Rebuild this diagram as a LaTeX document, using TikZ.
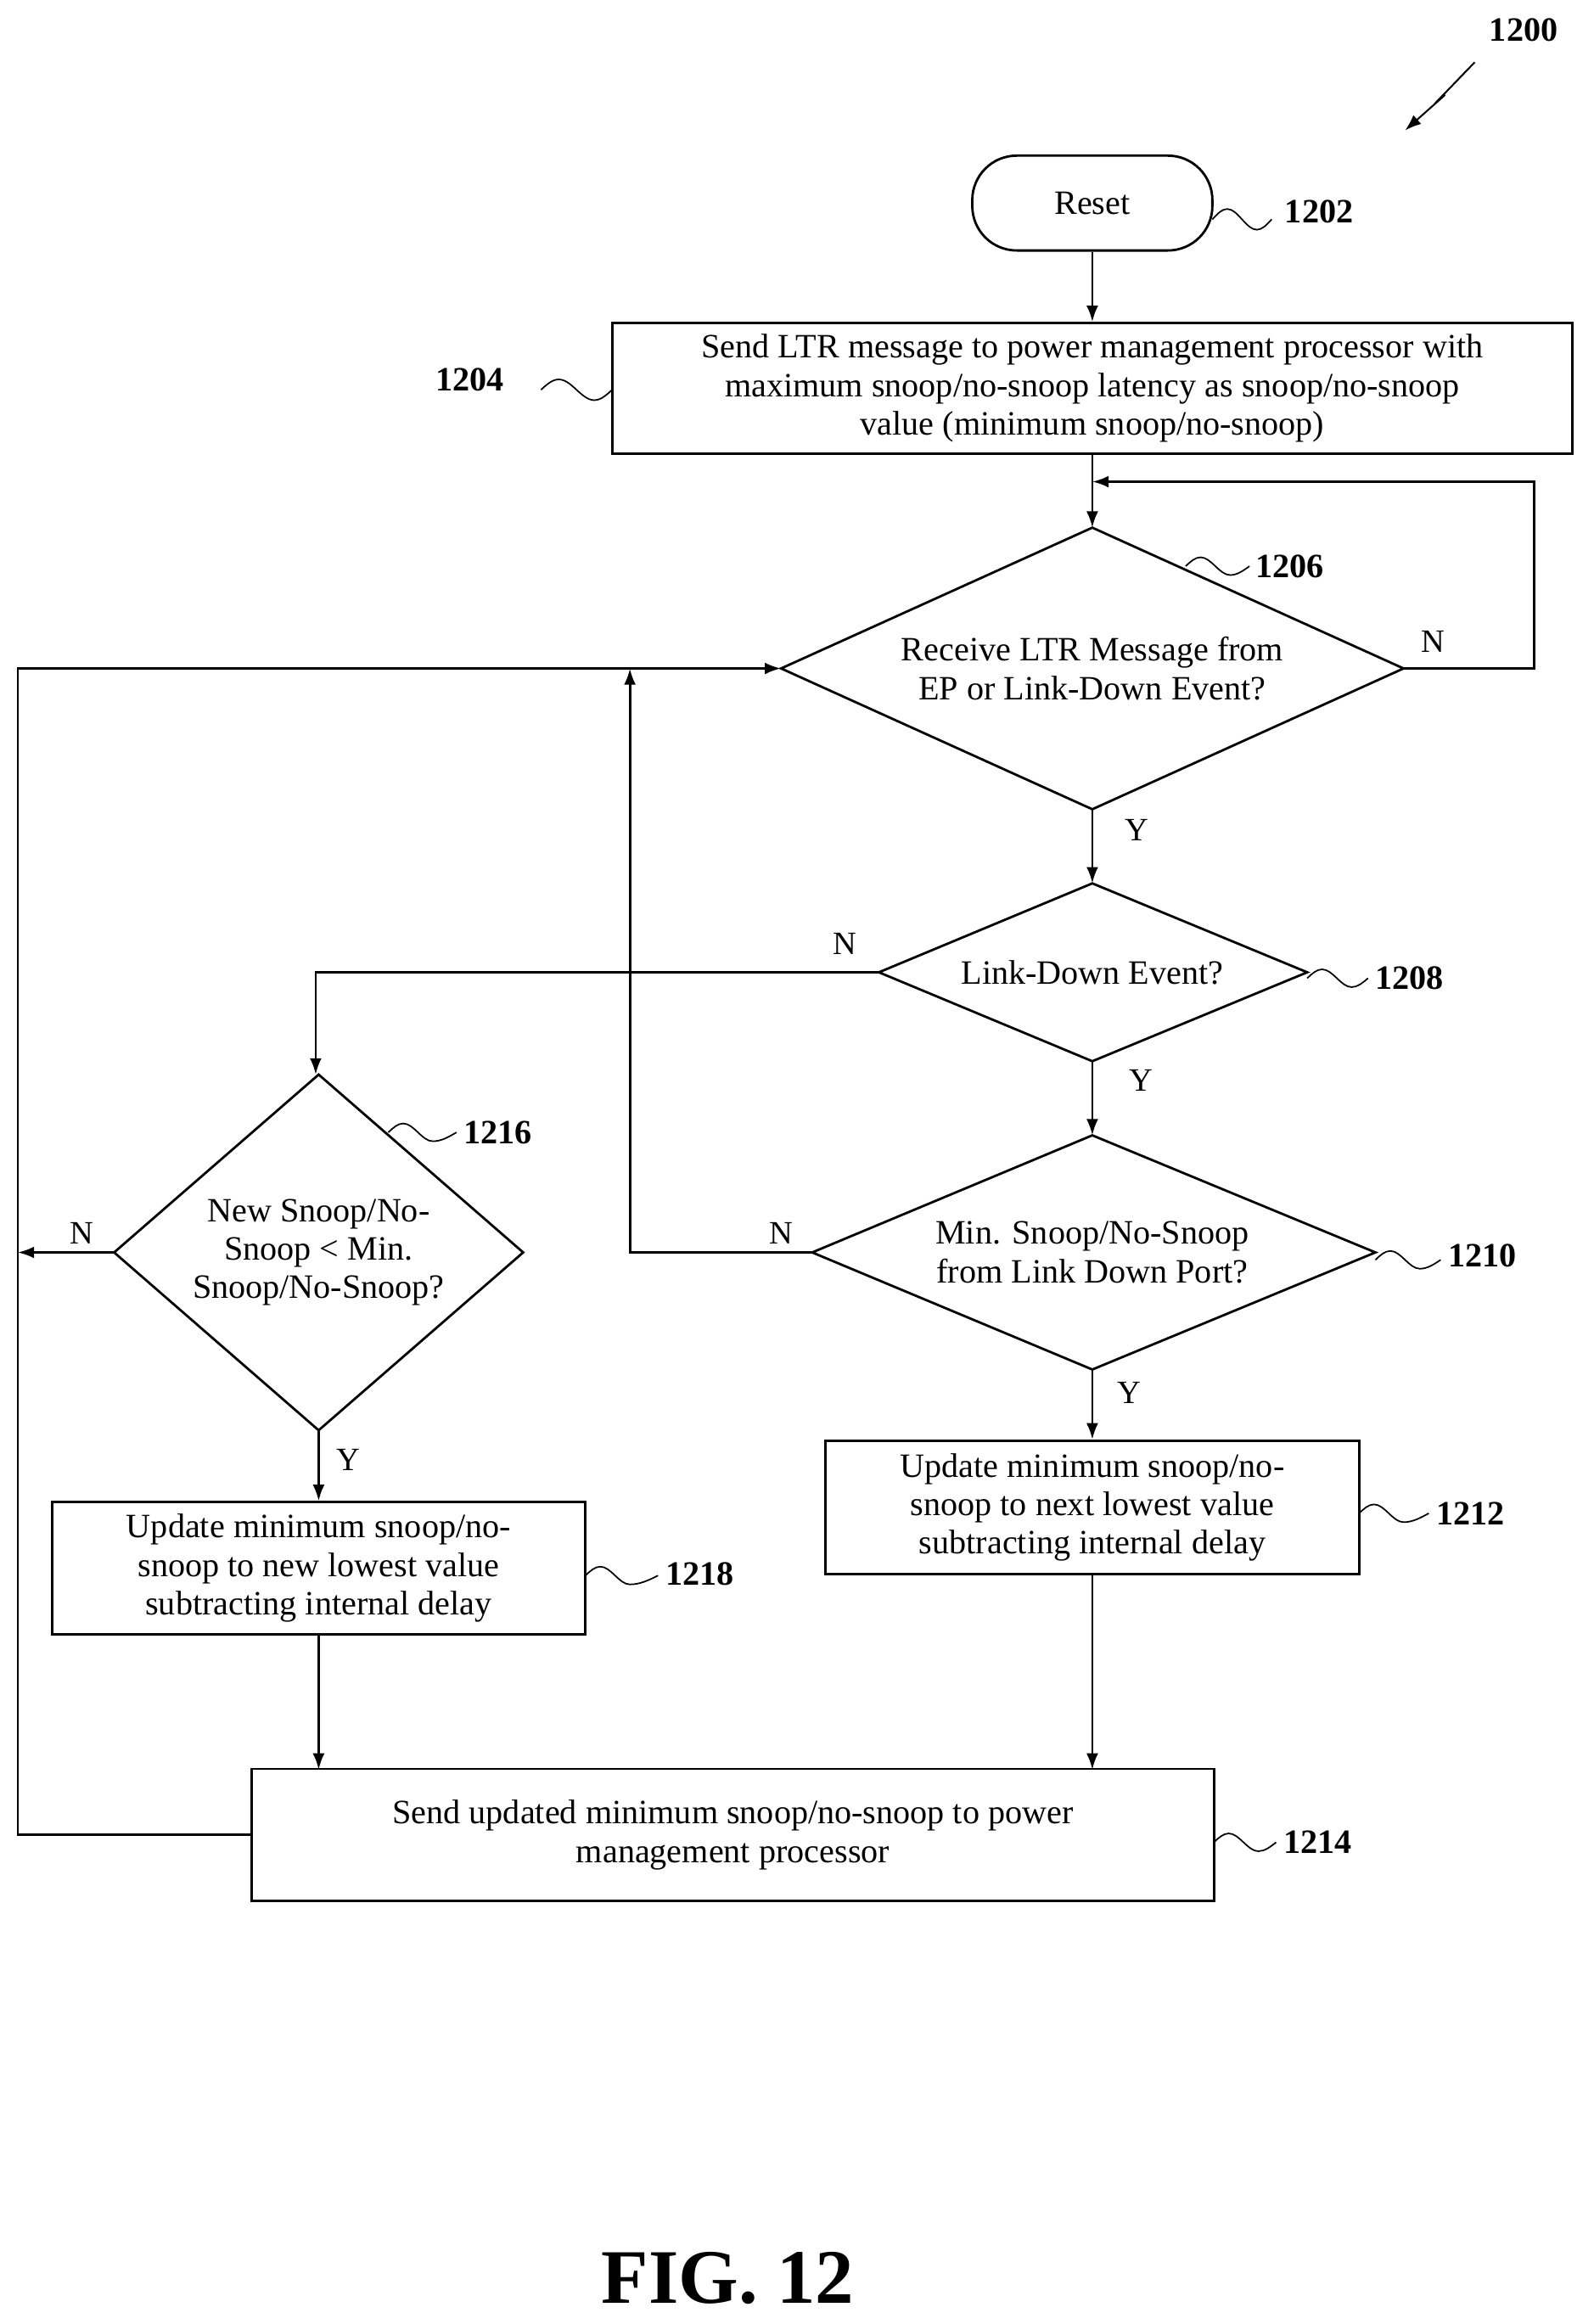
\documentclass[tikz,border=0pt]{standalone}
\usepackage{fontspec}
\setmainfont{Liberation Serif}
\usetikzlibrary{arrows.meta}
\begin{document}
\begin{tikzpicture}[x=1pt,y=-1pt,
  line width=1.6pt,
  arr/.style={-{Latex[length=11pt,width=8pt]}},
  txt/.style={font=\fontsize{23}{26}\selectfont,align=center,inner sep=0pt},
  lab/.style={font=\fontsize{23}{26}\selectfont\bfseries,inner sep=0pt},
  yn/.style={font=\fontsize{22}{26}\selectfont,inner sep=0pt},
  box/.style={draw,minimum width=#1,inner sep=0pt}]
\useasboundingbox (0,0) rectangle (1075,1568);
% reset
\node[draw,rounded corners=30pt,minimum width=162pt,minimum height=64pt,txt] (reset) at (737,137) {Reset};
\node[lab] (l1202) at (890,143) {1202};
\draw[line width=1pt] (818,148) sin (828,141) cos (838,148) sin (848,155) cos (858,148);
% 1204
\node[draw,minimum width=648pt,minimum height=88pt,txt] (b1204) at (737,262) {Send LTR message to power management processor with\\maximum snoop/no-snoop latency as snoop/no-snoop\\value (minimum snoop/no-snoop)};
\node[lab] (l1204) at (317,256) {1204};
\draw[line width=1pt] (365,263) sin (377,256) cos (389,263) sin (401,270) cos (413,263);
\draw[arr] (reset.south) -- (b1204.north);
% 1206
\coordinate (d6t) at (737,356); \coordinate (d6b) at (737,546);
\coordinate (d6l) at (527,451); \coordinate (d6r) at (947,451);
\draw (d6t)--(d6r)--(d6b)--(d6l)--cycle;
\node[txt] (t1206) at (737,451) {Receive LTR Message from\\EP or Link-Down Event?};
\node[lab] (l1206) at (870,382) {1206};
\draw[line width=1pt] (800,382) sin (810,376) cos (820,382) sin (830,388) cos (843,382);
\draw[arr] (b1204.south) -- (d6t);
\coordinate (c1) at (1035,451); \coordinate (c2) at (1035,325);
\draw[arr] (d6r) -- (c1) -- (c2) -- (737,325);
\node[yn] (n1) at (967,433) {N};
\node[yn] (y1) at (767,560) {Y};
% 1208
\coordinate (d8t) at (737,596); \coordinate (d8b) at (737,716);
\coordinate (d8l) at (593,656); \coordinate (d8r) at (882,656);
\draw (d8t)--(d8r)--(d8b)--(d8l)--cycle;
\node[txt] (t1208) at (737,656) {Link-Down Event?};
\node[lab] (l1208) at (951,660) {1208};
\draw[line width=1pt] (882,660) sin (892,654) cos (902,660) sin (912,666) cos (923,660);
\draw[arr] (d6b) -- (d8t);
\node[yn] (n2) at (570,637) {N};
\node[yn] (y2) at (770,729) {Y};
% 1210
\coordinate (d10t) at (737,766); \coordinate (d10b) at (737,924);
\coordinate (d10l) at (548,845); \coordinate (d10r) at (928,845);
\draw (d10t)--(d10r)--(d10b)--(d10l)--cycle;
\node[txt] (t1210) at (737,845) {Min. Snoop/No-Snoop\\from Link Down Port?};
\node[lab] (l1210) at (1000,847) {1210};
\draw[line width=1pt] (928,850) sin (938,844) cos (948,850) sin (958,856) cos (972,850);
\draw[arr] (d8b) -- (d10t);
\node[yn] (n3) at (527,832) {N};
\node[yn] (y3) at (762,940) {Y};
\coordinate (c3) at (425,845);
\draw[arr] (d10l) -- (c3) -- (425,451);
% 1212
\node[draw,minimum width=360pt,minimum height=90pt,txt] (b1212) at (737,1017) {Update minimum snoop/no-\\snoop to next lowest value\\subtracting internal delay};
\node[lab] (l1212) at (992,1021) {1212};
\draw[line width=1pt] (917,1021) sin (927,1015) cos (937,1021) sin (947,1027) cos (964,1021);
\draw[arr] (d10b) -- (b1212.north);
% 1216
\coordinate (d16t) at (215,725); \coordinate (d16b) at (215,965);
\coordinate (d16l) at (77,845); \coordinate (d16r) at (353,845);
\draw (d16t)--(d16r)--(d16b)--(d16l)--cycle;
\node[txt] (t1216) at (215,845) {New Snoop/No-\\Snoop < Min.\\Snoop/No-Snoop?};
\node[lab] (l1216) at (336,764) {1216};
\draw[line width=1pt] (262,764) sin (272,758) cos (282,764) sin (292,770) cos (308,764);
\coordinate (c4) at (213,656);
\draw[arr] (d8l) -- (c4) -- (213,725);
\coordinate (c5) at (12,845);
\draw[arr] (d16l) -- (c5);
\node[yn] (n4) at (55,832) {N};
\node[yn] (y4) at (235,985) {Y};
% 1218
\node[draw,minimum width=360pt,minimum height=89pt,txt] (b1218) at (215,1058) {Update minimum snoop/no-\\snoop to new lowest value\\subtracting internal delay};
\node[lab] (l1218) at (472,1062) {1218};
\draw[line width=1pt] (395,1063) sin (405,1057) cos (415,1063) sin (425,1069) cos (444,1063);
\draw[arr] (d16b) -- (b1218.north);
% 1214
\node[draw,minimum width=649pt,minimum height=89pt,txt] (b1214) at (494.5,1238) {Send updated minimum snoop/no-snoop to power\\management processor};
\node[lab] (l1214) at (889,1243) {1214};
\draw[line width=1pt] (819,1243) sin (829,1237) cos (839,1243) sin (849,1249) cos (861,1243);
\draw[arr] (b1218.south) -- (215,1194);
\draw[arr] (b1212.south) -- (737,1194);
\coordinate (c6) at (12,1238); \coordinate (c7) at (12,451);
\draw[arr] (b1214.west) -- (c6) -- (c7) -- (d6l);
% 1200
\node[lab] (l1200) at (1028,20) {1200};
\coordinate (z1) at (995,42); \coordinate (z2) at (948,88);
\draw[arr,line width=1.2pt] (z1) -- (968,70) -- (975,64) -- (z2);
\node[font=\fontsize{52}{56}\selectfont\bfseries] (fig) at (491,1537) {FIG. 12};
\end{tikzpicture}
\end{document}
